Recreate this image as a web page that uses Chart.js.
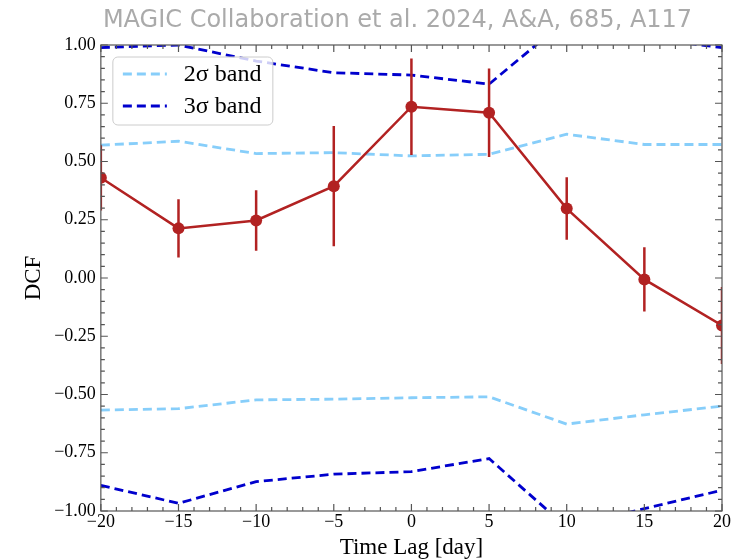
<!DOCTYPE html>
<html>
<head>
<meta charset="utf-8">
<script src="https://cdn.jsdelivr.net/npm/chart.js@4.4.1/dist/chart.umd.min.js"></script>
<style>
  html, body { margin: 0; padding: 0; background: #fff; }
  #wrap { position: relative; width: 748px; height: 560px; }
  #title { position: absolute; top: 5px; left: 0; width: 795px; text-align: center;
           font-family: "DejaVu Sans"; font-size: 24px; color: #aaaaaa; }
</style>
</head>
<body>
<div id="wrap">
  <canvas id="myChart" width="748" height="560"></canvas>
  <div id="title">MAGIC Collaboration et al. 2024, A&amp;A, 685, A117</div>
</div>
<script>
const lags = [-20, -15, -10, -5, 0, 5, 10, 15, 20];
const dcf = [0.43, 0.213, 0.247, 0.394, 0.735, 0.709, 0.298, -0.006, -0.204];
const dcfErr = [0.14, 0.125, 0.13, 0.258, 0.207, 0.19, 0.134, 0.138, 0.165];
const band2Upper = [0.57, 0.587, 0.534, 0.538, 0.524, 0.531, 0.617, 0.573, 0.573];
const band2Lower = [-0.567, -0.561, -0.523, -0.52, -0.514, -0.51, -0.627, -0.587, -0.55];
const band3Upper = [0.989, 1.0, 0.931, 0.881, 0.871, 0.832, 1.11, 1.03, 0.989];
const band3Lower = [-0.89, -0.967, -0.874, -0.842, -0.831, -0.775, -1.07, -0.99, -0.911];

const serif = "'Liberation Serif', 'Times New Roman', serif";
const red = "#b22222";
const light = "#87cefa";
const dark = "#0000cd";

const pts = (vals) => lags.map((x, i) => ({ x: x, y: vals[i] }));

const errorBars = {
  id: "errorBars",
  afterDatasetsDraw(chart) {
    const { ctx, chartArea: a, scales: { x, y } } = chart;
    ctx.save();
    ctx.beginPath();
    ctx.rect(a.left, a.top, a.right - a.left, a.bottom - a.top);
    ctx.clip();
    ctx.strokeStyle = red;
    ctx.lineWidth = 2.5;
    lags.forEach((lag, i) => {
      const px = x.getPixelForValue(lag);
      ctx.beginPath();
      ctx.moveTo(px, y.getPixelForValue(dcf[i] - dcfErr[i]));
      ctx.lineTo(px, y.getPixelForValue(dcf[i] + dcfErr[i]));
      ctx.stroke();
    });
    ctx.restore();
  }
};

const frame = {
  id: "frame",
  afterDraw(chart) {
    const { ctx, chartArea: a, scales: { x, y } } = chart;
    ctx.save();
    ctx.strokeStyle = "#555";
    ctx.lineWidth = 1.2;
    ctx.beginPath();
    for (let v = -20; v <= 20; v++) {
      const px = x.getPixelForValue(v);
      const len = v % 5 === 0 ? 7 : 4;
      ctx.moveTo(px, a.bottom); ctx.lineTo(px, a.bottom - len);
      ctx.moveTo(px, a.top); ctx.lineTo(px, a.top + len);
    }
    for (let i = -20; i <= 20; i++) {
      const py = y.getPixelForValue(i * 0.05);
      const len = i % 5 === 0 ? 7 : 4;
      ctx.moveTo(a.left, py); ctx.lineTo(a.left + len, py);
      ctx.moveTo(a.right, py); ctx.lineTo(a.right - len, py);
    }
    ctx.stroke();
    ctx.strokeRect(a.left, a.top, a.right - a.left, a.bottom - a.top);

    // legend box, upper left
    const lx = a.left + 12, ly = a.top + 12, lw = 160, lh = 68;
    ctx.fillStyle = "rgba(255,255,255,0.8)";
    ctx.strokeStyle = "#cccccc";
    ctx.lineWidth = 1;
    ctx.beginPath();
    ctx.roundRect(lx, ly, lw, lh, 5);
    ctx.fill();
    ctx.stroke();
    const entries = chart.data.datasets.filter(d => d.legend);
    entries.forEach((d, i) => {
      const yy = ly + 17 + i * 32;
      ctx.strokeStyle = d.borderColor;
      ctx.lineWidth = d.borderWidth;
      ctx.setLineDash(d.borderDash);
      ctx.beginPath();
      ctx.moveTo(lx + 10, yy);
      ctx.lineTo(lx + 54, yy);
      ctx.stroke();
      ctx.setLineDash([]);
      ctx.fillStyle = "#000";
      ctx.font = "24px " + serif;
      ctx.textBaseline = "middle";
      ctx.fillText(d.label, lx + 71, yy + 1);
    });
    ctx.restore();
  }
};

const ctx = document.getElementById("myChart").getContext("2d");
const myChart = new Chart(ctx, {
  type: "line",
  data: {
    datasets: [
      {
        label: "DCF",
        data: pts(dcf),
        borderColor: red,
        backgroundColor: red,
        borderWidth: 2.5,
        pointRadius: 6,
        pointBorderWidth: 0,
        clip: 0
      },
      {
        label: "2σ band",
        legend: true,
        data: pts(band2Upper),
        borderColor: light,
        borderWidth: 2.8,
        borderDash: [9, 5],
        pointRadius: 0,
        clip: 0
      },
      {
        label: "2σ band lower",
        data: pts(band2Lower),
        borderColor: light,
        borderWidth: 2.8,
        borderDash: [9, 5],
        pointRadius: 0,
        clip: 0
      },
      {
        label: "3σ band",
        legend: true,
        data: pts(band3Upper),
        borderColor: dark,
        borderWidth: 2.8,
        borderDash: [9, 5],
        pointRadius: 0,
        clip: 0
      },
      {
        label: "3σ band lower",
        data: pts(band3Lower),
        borderColor: dark,
        borderWidth: 2.8,
        borderDash: [9, 5],
        pointRadius: 0,
        clip: 0
      }
    ]
  },
  options: {
    responsive: false,
    animation: false,
    layout: { padding: { top: 45, right: 26, bottom: 1, left: 10 } },
    plugins: { legend: { display: false }, tooltip: { enabled: false } },
    scales: {
      x: {
        type: "linear",
        min: -20,
        max: 20,
        grid: { display: false, drawTicks: false },
        border: { display: false },
        ticks: {
          stepSize: 5,
          padding: 2,
          color: "#000",
          font: { family: serif, size: 18, lineHeight: 1 },
          maxRotation: 0,
          callback: (v) => (v < 0 ? "\u2212" + (-v) : String(v))
        },
        title: {
          display: true,
          text: "Time Lag [day]",
          color: "#000",
          font: { family: serif, size: 23, lineHeight: 1 },
          padding: { top: 3, bottom: 0 }
        }
      },
      y: {
        min: -1,
        max: 1,
        grid: { display: false, drawTicks: false },
        border: { display: false },
        ticks: {
          stepSize: 0.25,
          padding: 5,
          color: "#000",
          font: { family: serif, size: 18 },
          callback: (v) => (v < 0 ? "\u2212" : "") + Math.abs(v).toFixed(2)
        },
        title: {
          display: true,
          text: "DCF",
          color: "#000",
          font: { family: serif, size: 23 },
          padding: { top: 10, bottom: 1.6 }
        }
      }
    }
  },
  plugins: [errorBars, frame]
});
</script>
</body>
</html>
